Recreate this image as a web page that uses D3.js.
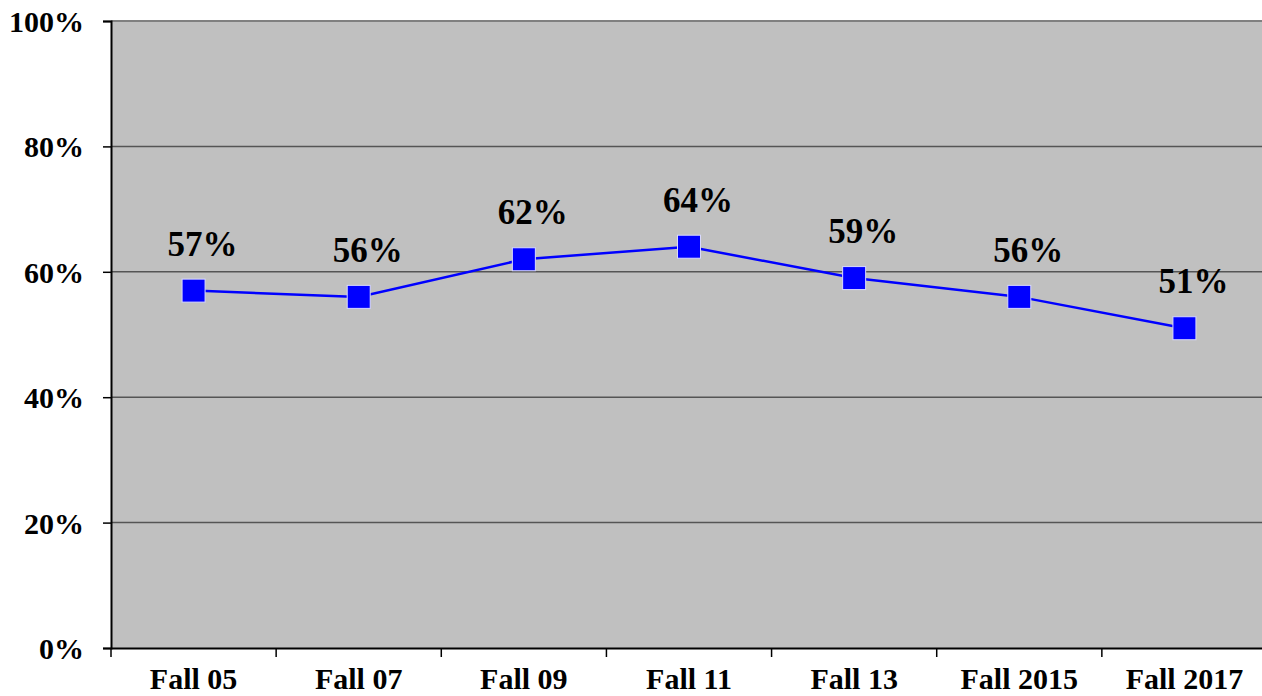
<!DOCTYPE html>
<html>
<head>
<meta charset="utf-8">
<script src="https://cdn.jsdelivr.net/npm/d3@7"></script>
<style>
  body { margin: 0; background: #fff; }
  text { font-family: "Liberation Serif", "Times New Roman", serif; font-weight: bold; }
</style>
</head>
<body>
<div id="chart"></div>
<script>
// Data
let categories = ['Fall 05', 'Fall 07', 'Fall 09', 'Fall 11', 'Fall 13', 'Fall 2015', 'Fall 2017'];
let values = [57, 56, 62, 64, 59, 56, 51];
let yTicks = [0, 20, 40, 60, 80, 100];

// Set up SVG
let svgWidth = 1262;
let svgHeight = 696;

let margin = { top: 21, right: -5, bottom: 48, left: 111 };

let width = svgWidth - margin.left - margin.right;
let height = svgHeight - margin.top - margin.bottom;

let svg = d3.select('#chart').append('svg')
  .attr('width', svgWidth)
  .attr('height', svgHeight);

let chartGroup = svg.append('g')
  .attr('transform', `translate(${margin.left}, ${margin.top})`);

// scales
let xScale = d3.scaleBand()
  .domain(categories)
  .range([0, width]);

let yScale = d3.scaleLinear()
  .domain([0, 100])
  .range([height, 0]);

// plot background
chartGroup.append('rect')
  .attr('width', width)
  .attr('height', height)
  .attr('fill', '#c0c0c0');

// gridlines
chartGroup.selectAll('.grid')
  .data(yTicks.filter(d => d > 0))
  .enter()
  .append('line')
  .attr('x1', 0)
  .attr('x2', width)
  .attr('y1', d => yScale(d))
  .attr('y2', d => yScale(d))
  .attr('stroke', d => d === 100 ? '#808080' : '#555')
  .attr('stroke-width', d => d === 100 ? 2 : 1.5);

// Y axis
let leftAxis = d3.axisLeft(yScale)
  .tickValues(yTicks)
  .tickSize(8)
  .tickPadding(19)
  .tickFormat(d => d + '%');

let yAxis = chartGroup.append('g').call(leftAxis);
yAxis.select('.domain').attr('stroke', '#000').attr('stroke-width', 2);
yAxis.selectAll('line').attr('stroke', '#000').attr('stroke-width', 1.5);
yAxis.selectAll('text')
  .attr('font-size', '30px')
  .attr('fill', '#000')
  .attr('dy', '0.35em');

// X axis
let bottomAxis = d3.axisBottom(xScale)
  .tickSize(0);

let xAxis = chartGroup.append('g')
  .attr('transform', `translate(0, ${height})`)
  .call(bottomAxis);
xAxis.select('.domain').attr('stroke', '#000').attr('stroke-width', 2);
xAxis.selectAll('text')
  .attr('font-size', '30px')
  .attr('fill', '#000')
  .attr('y', 41)
  .attr('dy', 0);

// category boundary ticks
chartGroup.selectAll('.xtick')
  .data(categories)
  .enter()
  .append('line')
  .attr('x1', d => xScale(d))
  .attr('x2', d => xScale(d))
  .attr('y1', height)
  .attr('y2', height + 9)
  .attr('stroke', '#000')
  .attr('stroke-width', 1.5);

// line
let line = d3.line()
  .x((d, i) => xScale(categories[i]) + xScale.bandwidth() / 2)
  .y(d => yScale(d));

chartGroup.append('path')
  .datum(values)
  .attr('d', line)
  .attr('fill', 'none')
  .attr('stroke', '#0000ff')
  .attr('stroke-width', 2.5);

// markers
let size = 23;
chartGroup.selectAll('.marker')
  .data(values)
  .enter()
  .append('rect')
  .attr('x', (d, i) => xScale(categories[i]) + xScale.bandwidth() / 2 - size / 2)
  .attr('y', d => yScale(d) - size / 2)
  .attr('width', size)
  .attr('height', size)
  .attr('fill', '#0000ff')
  .attr('stroke', '#d8d8ff')
  .attr('stroke-width', 1);

// value labels
chartGroup.selectAll('.vlabel')
  .data(values)
  .enter()
  .append('text')
  .attr('x', (d, i) => xScale(categories[i]) + xScale.bandwidth() / 2 + 9)
  .attr('y', d => yScale(d) - 35)
  .attr('text-anchor', 'middle')
  .attr('font-size', '35px')
  .attr('fill', '#000')
  .text(d => d + '%');
</script>
</body>
</html>
